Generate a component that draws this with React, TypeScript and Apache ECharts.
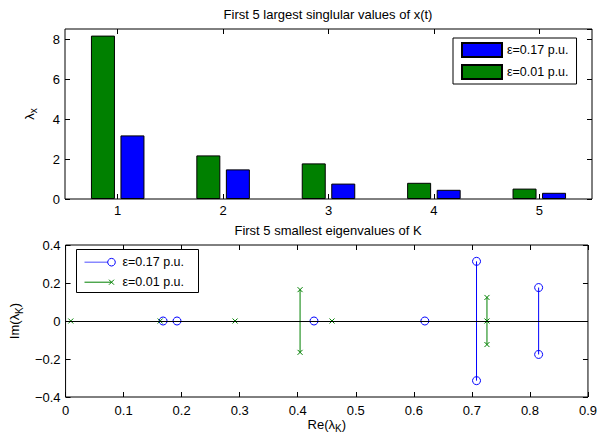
import React, { useEffect, useRef } from "react";
import * as echarts from "echarts";

// ---- data ----
const categories = ["1", "2", "3", "4", "5"];
const singular017 = [3.18, 1.48, 0.77, 0.46, 0.31];
const singular001 = [8.17, 2.18, 1.78, 0.81, 0.52];

const eigRe017 = [0.168, 0.192, 0.428, 0.619, 0.708, 0.815];
const eigIm017 = [0, 0, 0, 0, 0.314, 0.176];
const eigRe001 = [0.009, 0.163, 0.292, 0.404, 0.459, 0.726, 0.726];
const eigIm001 = [0, 0, 0, 0.165, 0, 0.124, 0];

const xTicksBottom = { min: 0, max: 0.9, interval: 0.1 };
const yTicksBottom = { min: -0.4, max: 0.4, interval: 0.2 };
const yTicksTop = { min: 0, max: 8.5, interval: 2 };

const name017 = "ε=0.17 p.u.";
const name001 = "ε=0.01 p.u.";

const BLUE = "#0000ff";
const GREEN = "#008000";
const FONT = "Liberation Sans, Arial, Helvetica, sans-serif";
const CROSS = "path://M0,0L10,10M10,0L0,10";

function points(re: number[], im: number[]) {
  const out: number[][] = [];
  re.forEach((r, i) => {
    if (im[i] !== 0) {
      out.push([r, im[i]]);
      out.push([r, -im[i]]);
    } else out.push([r, 0]);
  });
  return out;
}
function pairs(re: number[], im: number[]) {
  const out: number[][][] = [];
  re.forEach((r, i) => {
    if (im[i] !== 0) out.push([[r, im[i]], [r, -im[i]]]);
  });
  return out;
}

const tick = { show: true, inside: true, length: 5, lineStyle: { color: "#000", width: 1 } };
const noLine = { show: false, onZero: false };
const label = { color: "#000", fontSize: 13, fontFamily: FONT };
const fmtNum = (v: number) => {
  const n = +(+v).toFixed(2);
  return n < 0 ? "\u2212" + String(Math.abs(n)) : String(n);
};

export default function App() {
  const ref = useRef<HTMLDivElement>(null);
  useEffect(() => {
    if (!ref.current) return;
    const chart = echarts.init(ref.current, undefined, { renderer: "svg" });

    const pairSeries = (re: number[], im: number[], color: string) =>
      pairs(re, im).map((d) => ({
        type: "line",
        xAxisIndex: 2,
        yAxisIndex: 2,
        data: d,
        symbol: "none",
        showSymbol: false,
        lineStyle: { color, width: 1 },
        z: 2,
        silent: true,
      }));

    const titleStyle = { fontSize: 13, fontWeight: "normal", color: "#000", fontFamily: FONT };

    const option: any = {
      animation: false,
      backgroundColor: "#fff",
      textStyle: { fontFamily: FONT },
      title: [
        {
          text: "First 5 largest singlular values of x(t)",
          left: 328,
          top: 8,
          textAlign: "center",
          padding: 0,
          textStyle: titleStyle,
        },
        {
          text: "First 5 smallest eigenvalues of K",
          left: 328,
          top: 224,
          textAlign: "center",
          padding: 0,
          textStyle: titleStyle,
        },
      ],
      legend: {
        data: [name017, name001],
        orient: "vertical",
        left: 453,
        top: 38,
        padding: [4, 8, 4, 8],
        itemGap: 6,
        itemWidth: 40,
        itemHeight: 14,
        icon: "rect",
        backgroundColor: "#fff",
        borderColor: "#000",
        borderWidth: 1,
        borderRadius: 0,
        textStyle: { fontSize: 12.5, color: "#000", fontFamily: FONT },
      },
      grid: [
        { left: 65, top: 29, width: 527, height: 170, show: true, borderColor: "#000", borderWidth: 1, backgroundColor: "#fff" },
        { left: 65, top: 245, width: 527, height: 152, show: true, borderColor: "#000", borderWidth: 1, backgroundColor: "#fff" },
      ],
      xAxis: [
        {
          gridIndex: 0,
          type: "category",
          data: categories,
          position: "bottom",
          boundaryGap: true,
          axisLine: noLine,
          axisTick: { ...tick, alignWithLabel: true },
          axisLabel: { ...label, margin: 5 },
          splitLine: { show: false },
        },
        {
          gridIndex: 0,
          type: "category",
          data: categories,
          position: "top",
          boundaryGap: true,
          axisLine: noLine,
          axisTick: { ...tick, alignWithLabel: true },
          axisLabel: { show: false },
          splitLine: { show: false },
        },
        {
          gridIndex: 1,
          type: "value",
          ...xTicksBottom,
          position: "bottom",
          axisLine: noLine,
          axisTick: tick,
          axisLabel: { ...label, margin: 7, formatter: fmtNum, showMaxLabel: true },
          splitLine: { show: false },
          name: "{a|Re(λ}{b|K}{a|)}",
          nameLocation: "middle",
          nameGap: 17,
          nameTextStyle: {
            color: "#000",
            rich: {
              a: { fontSize: 13, fontFamily: FONT, color: "#000" },
              b: { fontSize: 10, fontFamily: FONT, color: "#000", padding: [9, 0, 0, 0] },
            },
          },
        },
        {
          gridIndex: 1,
          type: "value",
          ...xTicksBottom,
          position: "top",
          axisLine: noLine,
          axisTick: tick,
          axisLabel: { show: false },
          splitLine: { show: false },
        },
      ],
      yAxis: [
        {
          gridIndex: 0,
          type: "value",
          ...yTicksTop,
          position: "left",
          axisLine: noLine,
          axisTick: tick,
          axisLabel: { ...label, margin: 5, showMaxLabel: false, formatter: fmtNum },
          splitLine: { show: false },
          name: "{a|λ}{b|x}",
          nameLocation: "middle",
          nameGap: 27,
          nameRotate: 90,
          nameTextStyle: {
            color: "#000",
            rich: {
              a: { fontSize: 13, fontFamily: FONT, color: "#000" },
              b: { fontSize: 10, fontFamily: FONT, color: "#000", padding: [8, 0, 0, 0] },
            },
          },
        },
        {
          gridIndex: 0,
          type: "value",
          ...yTicksTop,
          position: "right",
          axisLine: noLine,
          axisTick: tick,
          axisLabel: { show: false },
          splitLine: { show: false },
        },
        {
          gridIndex: 1,
          type: "value",
          ...yTicksBottom,
          position: "left",
          axisLine: noLine,
          axisTick: tick,
          axisLabel: { ...label, margin: 5, formatter: fmtNum },
          splitLine: { show: false },
          name: "{a|Im(λ}{b|K}{a|)}",
          nameLocation: "middle",
          nameGap: 38,
          nameRotate: 90,
          nameTextStyle: {
            color: "#000",
            rich: {
              a: { fontSize: 13, fontFamily: FONT, color: "#000" },
              b: { fontSize: 10, fontFamily: FONT, color: "#000", padding: [9, 0, 0, 0] },
            },
          },
        },
        {
          gridIndex: 1,
          type: "value",
          ...yTicksBottom,
          position: "right",
          axisLine: noLine,
          axisTick: tick,
          axisLabel: { show: false },
          splitLine: { show: false },
        },
      ],
      series: [
        {
          name: name001,
          type: "bar",
          xAxisIndex: 0,
          yAxisIndex: 0,
          data: singular001,
          barWidth: 24,
          barGap: "23%",
          itemStyle: { color: GREEN, borderColor: "#000", borderWidth: 1 },
        },
        {
          name: name017,
          type: "bar",
          xAxisIndex: 0,
          yAxisIndex: 0,
          data: singular017,
          barWidth: 24,
          barGap: "23%",
          itemStyle: { color: BLUE, borderColor: "#000", borderWidth: 1 },
        },
        {
          type: "line",
          xAxisIndex: 2,
          yAxisIndex: 2,
          data: [],
          z: 1,
          silent: true,
          markLine: {
            silent: true,
            symbol: "none",
            label: { show: false },
            lineStyle: { color: "#000", width: 1, type: "solid" },
            data: [{ yAxis: 0 }],
          },
        },
        ...pairSeries(eigRe017, eigIm017, BLUE),
        ...pairSeries(eigRe001, eigIm001, GREEN),
        {
          type: "scatter",
          xAxisIndex: 2,
          yAxisIndex: 2,
          data: points(eigRe017, eigIm017),
          symbol: "circle",
          symbolSize: 8,
          itemStyle: { color: "transparent", borderColor: BLUE, borderWidth: 1, opacity: 1 },
          z: 3,
        },
        {
          type: "scatter",
          xAxisIndex: 2,
          yAxisIndex: 2,
          data: points(eigRe001, eigIm001),
          symbol: CROSS,
          symbolSize: 5,
          itemStyle: { color: GREEN, borderColor: GREEN, borderWidth: 1, opacity: 1 },
          z: 4,
        },
      ],
      graphic: [
        {
          type: "group",
          left: 76,
          top: 249,
          children: [
            { type: "rect", shape: { x: 0, y: 0, width: 122, height: 43 }, style: { fill: "#fff", stroke: "#000", lineWidth: 1 } },
            { type: "line", shape: { x1: 8, y1: 12.7, x2: 31.5, y2: 12.7 }, style: { stroke: "#6b6bff", lineWidth: 1.2 } },
            { type: "circle", shape: { cx: 35, cy: 12.7, r: 3.8 }, style: { fill: "none", stroke: BLUE, lineWidth: 1 } },
            { type: "text", x: 46, y: 12.7, style: { text: name017, fill: "#000", font: "12.5px " + FONT, verticalAlign: "middle", textAlign: "left" } },
            { type: "line", shape: { x1: 8, y1: 32.7, x2: 35, y2: 32.7 }, style: { stroke: GREEN, lineWidth: 1 } },
            { type: "line", shape: { x1: 32.5, y1: 30.2, x2: 37.5, y2: 35.2 }, style: { stroke: GREEN, lineWidth: 1 } },
            { type: "line", shape: { x1: 37.5, y1: 30.2, x2: 32.5, y2: 35.2 }, style: { stroke: GREEN, lineWidth: 1 } },
            { type: "text", x: 46, y: 32.7, style: { text: name001, fill: "#000", font: "12.5px " + FONT, verticalAlign: "middle", textAlign: "left" } },
          ],
        },
      ],
    };

    chart.setOption(option);
    return () => chart.dispose();
  }, []);

  return (
    <div
      ref={ref}
      style={{ position: "absolute", left: 0, top: 0, width: 600, height: 437, background: "#fff" }}
    />
  );
}
